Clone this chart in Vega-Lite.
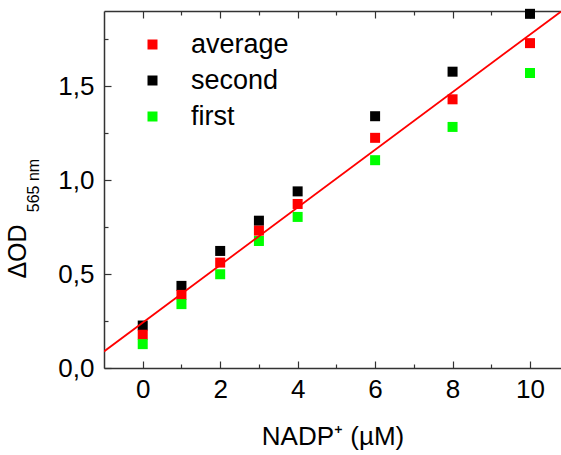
{
  "$schema": "https://vega.github.io/schema/vega-lite/v6.json",
  "autosize": "none",
  "padding": {"left": 104, "top": 11, "right": 0, "bottom": 87},
  "width": 457,
  "height": 357,
  "background": "white",
  "config": {
    "view": {"stroke": null},
    "font": "Liberation Sans",
    "axis": {"labelFont": "Liberation Sans", "titleFont": "Liberation Sans", "grid": false, "domainColor": "#333333", "domainWidth": 1.5, "tickColor": "#333333", "tickWidth": 1.2, "labelColor": "black", "titleColor": "black", "titleFontWeight": "normal", "labelFontSize": 26, "titleFontSize": 26}
  },
  "datasets": {
    "pts": [
      {"c": 0, "series": "second", "od": 0.226},
      {"c": 1, "series": "second", "od": 0.437},
      {"c": 2, "series": "second", "od": 0.623},
      {"c": 3, "series": "second", "od": 0.784},
      {"c": 4, "series": "second", "od": 0.94},
      {"c": 6, "series": "second", "od": 1.34},
      {"c": 8, "series": "second", "od": 1.577},
      {"c": 10, "series": "second", "od": 1.885},
      {"c": 0, "series": "average", "od": 0.177},
      {"c": 1, "series": "average", "od": 0.389},
      {"c": 2, "series": "average", "od": 0.561},
      {"c": 3, "series": "average", "od": 0.731},
      {"c": 4, "series": "average", "od": 0.873},
      {"c": 6, "series": "average", "od": 1.225},
      {"c": 8, "series": "average", "od": 1.43},
      {"c": 10, "series": "average", "od": 1.729},
      {"c": 0, "series": "first", "od": 0.127},
      {"c": 1, "series": "first", "od": 0.34},
      {"c": 2, "series": "first", "od": 0.499},
      {"c": 3, "series": "first", "od": 0.676},
      {"c": 4, "series": "first", "od": 0.804},
      {"c": 6, "series": "first", "od": 1.106},
      {"c": 8, "series": "first", "od": 1.283},
      {"c": 10, "series": "first", "od": 1.57}
    ],
    "fit": [
      {"c": -1, "od": 0.088},
      {"c": 10.8, "od": 1.897}
    ]
  },
  "resolve": {"axis": {"x": "independent", "y": "independent"}},
  "layer": [
    {
      "data": {"name": "pts"},
      "mark": {"type": "square", "size": 100, "opacity": 1, "filled": true},
      "encoding": {
        "x": {"field": "c", "type": "quantitative", "scale": {"domain": [-1, 10.8], "nice": false, "zero": false},
          "axis": {"orient": "top", "values": [0,1,2,3,4,5,6,7,8,9,10], "labels": false, "title": null,
            "tickSize": {"condition": {"test": "datum.value % 2 === 0", "value": -7}, "value": -4}}},
        "y": {"field": "od", "type": "quantitative", "scale": {"domain": [0, 1.9], "nice": false},
          "axis": {"orient": "left", "values": [0,0.25,0.5,0.75,1,1.25,1.5,1.75], "labelExpr": "datum.value % 0.5 === 0 ? replace(format(datum.value, '.1f'), '.', ',') : ''",
            "tickSize": {"condition": {"test": "datum.value % 0.5 === 0", "value": -7}, "value": -4},
            "labelPadding": 17, "title": "ΔOD", "titleFontSize": 25, "titleX": -79, "titleY": 240, "titleAlign": "center", "titleBaseline": "alphabetic"}},
        "color": {"field": "series", "type": "nominal",
          "scale": {"domain": ["average", "second", "first"], "range": ["#ff0000", "#000000", "#00ff00"]},
          "legend": {"title": null, "orient": "none", "legendX": 35, "legendY": 20, "symbolType": "square", "symbolSize": 100, "symbolOpacity": 1, "symbolStrokeWidth": 0, "labelFontSize": 27, "labelFont": "Liberation Sans", "labelOffset": 25, "rowPadding": 8, "padding": 0}}
      }
    },
    {
      "data": {"name": "fit"},
      "mark": {"type": "line", "color": "#ff0000", "strokeWidth": 1.8, "clip": true},
      "encoding": {
        "x": {"field": "c", "type": "quantitative", "scale": {"domain": [-1, 10.8], "nice": false, "zero": false},
          "axis": {"orient": "bottom", "values": [0,1,2,3,4,5,6,7,8,9,10], "labelExpr": "datum.value % 2 === 0 ? datum.label : ''",
            "tickSize": {"condition": {"test": "datum.value % 2 === 0", "value": -7}, "value": -4},
            "labelPadding": 15, "title": "NADP⁺ (µM)", "titlePadding": 21}},
        "y": {"field": "od", "type": "quantitative",
          "axis": {"orient": "left", "domain": false, "ticks": false, "labels": false, "title": "565 nm", "titleFontSize": 16, "titleX": -66, "titleY": 174, "titleAlign": "center", "titleBaseline": "alphabetic", "offset": 0}}
      }
    }
  ]
}
